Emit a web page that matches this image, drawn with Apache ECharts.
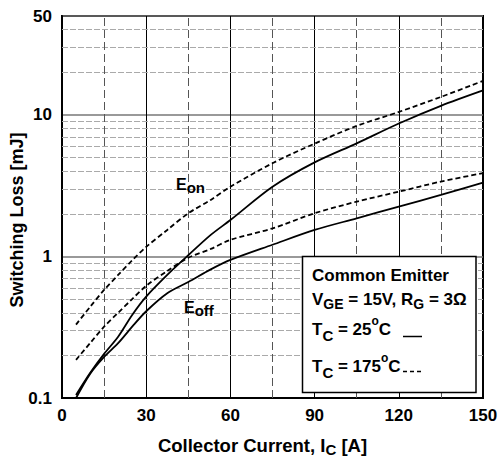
<!DOCTYPE html>
<html><head><meta charset="utf-8">
<script src="https://cdn.jsdelivr.net/npm/echarts@6/dist/echarts.min.js"></script>
<style>html,body{margin:0;padding:0;background:#fff}#c{width:498px;height:457px}</style>
</head><body><div id="c"></div>
<script>
// ---- data ----
const current = [5, 10, 15, 20, 25, 30, 37.5, 45, 53, 60, 75, 90, 105, 120, 135, 150];
const eon25   = [0.105, 0.15, 0.205, 0.271, 0.386, 0.52, 0.74, 1.02, 1.42, 1.81, 3.11, 4.62, 6.3, 8.7, 11.6, 14.9];
const eoff25  = [0.10, 0.148, 0.195, 0.244, 0.319, 0.41, 0.55, 0.66, 0.81, 0.945, 1.21, 1.54, 1.86, 2.25, 2.72, 3.32];
const eon175  = [0.33, 0.44, 0.58, 0.74, 0.94, 1.17, 1.54, 2.02, 2.51, 3.11, 4.56, 6.27, 8.36, 10.5, 13.4, 17.4];
const eoff175 = [0.186, 0.244, 0.319, 0.40, 0.50, 0.62, 0.79, 0.98, 1.13, 1.31, 1.58, 2.02, 2.44, 2.87, 3.38, 3.88];
const xTickLabels = [0, 30, 60, 90, 120, 150];
const yTickLabels = [0.1, 1, 10, 50];
const minorYGrid = [0.2, 0.3, 0.4, 0.5, 0.6, 0.7, 0.8, 0.9, 2, 3, 4, 5, 6, 7, 8, 9, 20, 30, 40];
const minorXGrid = [15, 45, 75, 105, 135];

const F = "'Liberation Sans', Arial, Helvetica, sans-serif";
function pairs(ys) { return current.map((x, i) => [x, ys[i]]); }

const chart = echarts.init(document.getElementById('c'), null, {renderer: 'svg'});

const curve = (name, ys, dashed) => ({
  name, type: 'line', data: pairs(ys), showSymbol: false, symbol: 'none',
  smooth: 0.3, silent: true, z: 5,
  lineStyle: {color: '#000', width: 1.8, type: dashed ? [5, 3] : 'solid'}
});

const txt = {fontFamily: F, fontWeight: 'bold', fill: '#000'};

const option = {
  animation: false,
  backgroundColor: '#fff',
  grid: {left: 62, right: 15, top: 16, bottom: 59, outerBoundsMode: 'none', containLabel: false,
    show: true, borderColor: '#000', borderWidth: 2, backgroundColor: 'transparent'},
  xAxis: {
    type: 'value', min: 0, max: 150, interval: 30,
    axisLine: {show: true, onZero: false, lineStyle: {color: '#000', width: 2}},
    axisTick: {show: false},
    axisLabel: {
      margin: 9, fontSize: 17, fontWeight: 'bold', fontFamily: F, color: '#000',
      showMinLabel: true, showMaxLabel: true,
      formatter: v => xTickLabels.includes(v) ? String(v) : ''
    },
    splitLine: {show: true, lineStyle: {color: '#000', width: 1}},
    name: 'Collector Current, I{s|C} [A]',
    nameLocation: 'middle', nameGap: 35, nameMoveOverlap: false,
    nameTextStyle: {
      fontSize: 18.5, fontWeight: 'bold', fontFamily: F, color: '#000', lineHeight: 24, padding: [0, 20, 0, 0],
      rich: {s: {fontSize: 15, fontWeight: 'bold', fontFamily: F, color: '#000', lineHeight: 24, verticalAlign: 'bottom'}}
    }
  },
  yAxis: {
    type: 'log', logBase: 10, min: 0.1, max: 50,
    axisLine: {show: true, onZero: false, lineStyle: {color: '#000', width: 2}},
    axisTick: {show: false},
    axisLabel: {
      margin: 10, fontSize: 17, fontWeight: 'bold', fontFamily: F, color: '#000',
      showMinLabel: true, showMaxLabel: true,
      formatter: v => {
        const r = Math.round(v * 100) / 100;
        return yTickLabels.includes(r) ? String(r) : '';
      }
    },
    splitLine: {show: true, lineStyle: {color: '#777', width: 1.5}},
    name: 'Switching Loss [mJ]',
    nameLocation: 'middle', nameGap: 36, nameRotate: 90, nameMoveOverlap: false,
    nameTextStyle: {fontSize: 18, fontWeight: 'bold', fontFamily: F, color: '#000', padding: [0, 26, 0, 0]}
  },
  series: [
    {
      name: 'grid', type: 'line', data: [], silent: true, z: 1,
      markLine: {
        silent: true, symbol: 'none', animation: false,
        label: {show: false},
        lineStyle: {color: '#aaa', width: 1, type: [6, 2]},
        data: minorYGrid.map(v => ({yAxis: v}))
          .concat(minorXGrid.map(v => ({xAxis: v, lineStyle: {color: '#555', width: 1, type: [8, 4]}})))
      }
    },
    curve('Eon 25°C', eon25, false),
    curve('Eoff 25°C', eoff25, false),
    curve('Eon 175°C', eon175, true),
    curve('Eoff 175°C', eoff175, true)
  ],
  graphic: [
    {type: 'text', z: 20, style: Object.assign({}, txt, {
      x: 176, y: 184, text: 'E{s|on}', fontSize: 16, lineHeight: 22, verticalAlign: 'middle',
      rich: {s: Object.assign({}, txt, {fontSize: 15, lineHeight: 22, verticalAlign: 'bottom'})}
    })},
    {type: 'text', z: 20, style: Object.assign({}, txt, {
      x: 184, y: 307, text: 'E{s|off}', fontSize: 16, lineHeight: 22, verticalAlign: 'middle',
      rich: {s: Object.assign({}, txt, {fontSize: 15, lineHeight: 22, verticalAlign: 'bottom'})}
    })},
    {type: 'rect', z: 15, shape: {x: 302.5, y: 256.5, width: 173.5, height: 136},
      style: {fill: '#fff', stroke: '#000', lineWidth: 1.5}},
    {type: 'text', z: 20, style: Object.assign({}, txt, {
      x: 312, y: 275.5, text: 'Common Emitter', fontSize: 17, lineHeight: 24, verticalAlign: 'middle'
    })},
    {type: 'text', z: 20, style: Object.assign({}, txt, {
      x: 312, y: 299, text: 'V{s|GE} = 15V, R{s|G} = 3Ω', fontSize: 17, lineHeight: 24, verticalAlign: 'middle',
      rich: {s: Object.assign({}, txt, {fontSize: 14, lineHeight: 24, verticalAlign: 'bottom'})}
    })},
    {type: 'text', z: 20, style: Object.assign({}, txt, {
      x: 312, y: 329, text: 'T{s|C} = 25{o|o}C', fontSize: 17, lineHeight: 28, verticalAlign: 'middle',
      rich: {
        s: Object.assign({}, txt, {fontSize: 15, lineHeight: 28, verticalAlign: 'bottom'}),
        o: Object.assign({}, txt, {fontSize: 12, lineHeight: 28, verticalAlign: 'top'})
      }
    })},
    {type: 'text', z: 20, style: Object.assign({}, txt, {
      x: 312, y: 366, text: 'T{s|C} = 175{o|o}C', fontSize: 17, lineHeight: 28, verticalAlign: 'middle',
      rich: {
        s: Object.assign({}, txt, {fontSize: 15, lineHeight: 28, verticalAlign: 'bottom'}),
        o: Object.assign({}, txt, {fontSize: 12, lineHeight: 28, verticalAlign: 'top'})
      }
    })},
    {type: 'line', z: 20, shape: {x1: 403, y1: 336.5, x2: 422, y2: 336.5}, style: {stroke: '#000', lineWidth: 1.5}},
    {type: 'line', z: 20, shape: {x1: 403, y1: 371.5, x2: 424, y2: 371.5}, style: {stroke: '#000', lineWidth: 1.5, lineDash: [4, 3]}}
  ]
};
chart.setOption(option);
</script>
</body></html>
